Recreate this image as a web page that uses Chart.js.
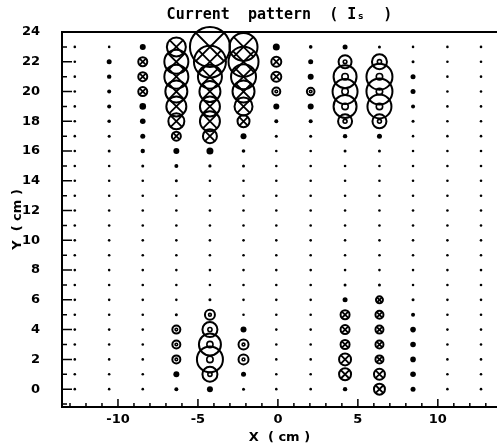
<!DOCTYPE html>
<html>
<head>
<meta charset="utf-8">
<script src="https://cdn.jsdelivr.net/npm/chart.js@4.4.1/dist/chart.umd.min.js"></script>
<style>
  html, body { margin: 0; padding: 0; background: #fff; }
  #wrap { width: 497px; height: 446px; }
</style>
</head>
<body>
<div id="wrap"><canvas id="patron_corriente"></canvas></div>
<script>
// measurement grid (cm)
const colX = [-12.7, -10.55, -8.45, -6.35, -4.25, -2.15, -0.1, 2.05, 4.2, 6.35, 8.45, 10.6, 12.7];
const rowY = [0, 1, 2, 3, 4, 5, 6, 7, 8, 9, 10, 11, 12, 13, 14, 15, 16, 17, 18, 19, 20, 21, 22, 23];

// current into the page (x, y, magnitude)
const inward = [
  [-8.45, 22, 4.5], [-8.45, 21, 4.5], [-8.45, 20, 4.5],
  [-6.35, 23, 9.5], [-6.35, 22, 12], [-6.35, 21, 12], [-6.35, 20, 11], [-6.35, 19, 10], [-6.35, 18, 8], [-6.35, 17, 4.5],
  [-4.25, 23, 20], [-4.25, 22, 16], [-4.25, 21, 12], [-4.25, 20, 10.5], [-4.25, 19, 10], [-4.25, 18, 10], [-4.25, 17, 7],
  [-2.15, 23, 14], [-2.15, 22, 15], [-2.15, 21, 12.5], [-2.15, 20, 11], [-2.15, 19, 9], [-2.15, 18, 6],
  [-0.1, 22, 5], [-0.1, 21, 5],
  [4.2, 5, 4.5], [4.2, 4, 4.5], [4.2, 3, 4.5], [4.2, 2, 6], [4.2, 1, 6],
  [6.35, 6, 3.5], [6.35, 5, 4], [6.35, 4, 4], [6.35, 3, 4], [6.35, 2, 4], [6.35, 1, 5.5], [6.35, 0, 5.5]
];

// current out of the page (x, y, magnitude)
const outward = [
  [-6.35, 4, 4], [-6.35, 3, 4], [-6.35, 2, 4],
  [-4.25, 5, 5], [-4.25, 4, 7.5], [-4.25, 3, 11], [-4.25, 2, 13], [-4.25, 1, 7.5],
  [-2.15, 3, 5], [-2.15, 2, 5],
  [-0.1, 20, 4], [2.05, 20, 3.8],
  [4.2, 22, 6.5], [4.2, 21, 11.5], [4.2, 20, 12.5], [4.2, 19, 11.5], [4.2, 18, 7],
  [6.35, 22, 7.5], [6.35, 21, 13], [6.35, 20, 13], [6.35, 19, 12], [6.35, 18, 7]
];

// weak currents drawn as plain dots (x, y, magnitude)
const weak = [
  [-10.55, 22, 2.5], [-10.55, 21, 2.2], [-10.55, 20, 2], [-10.55, 19, 2], [-10.55, 18, 1.8], [-10.55, 17, 1.5], [-10.55, 16, 1.5],
  [-8.45, 23, 3], [-8.45, 19, 3.3], [-8.45, 18, 2.8], [-8.45, 17, 2.5], [-8.45, 16, 2.2], [-8.45, 15, 1.5],
  [-6.35, 16, 3], [-6.35, 15, 2], [-6.35, 14, 1.5], [-6.35, 5, 1.5], [-6.35, 1, 3], [-6.35, 0, 2],
  [-4.25, 16, 3.5], [-4.25, 15, 1.6], [-4.25, 6, 1.5], [-4.25, 0, 3],
  [-2.15, 17, 3], [-2.15, 16, 1.8], [-2.15, 15, 1.5], [-2.15, 4, 3], [-2.15, 1, 2.5], [-2.15, 0, 1.5],
  [-0.1, 23, 3.5], [-0.1, 19, 3], [-0.1, 18, 2], [-0.1, 17, 1.5],
  [2.05, 23, 1.8], [2.05, 22, 2.5], [2.05, 21, 3], [2.05, 19, 3], [2.05, 18, 2], [2.05, 17, 1.5],
  [4.2, 23, 2.5], [4.2, 17, 2.2], [4.2, 16, 1.5], [4.2, 7, 1.5], [4.2, 6, 2.5], [4.2, 0, 2.2],
  [6.35, 23, 1.5], [6.35, 17, 2.5], [6.35, 16, 1.5], [6.35, 7, 1.5],
  [8.45, 22, 1.5], [8.45, 21, 2.5], [8.45, 20, 2.5], [8.45, 19, 2], [8.45, 18, 1.5],
  [8.45, 6, 1.5], [8.45, 5, 2], [8.45, 4, 2.8], [8.45, 3, 2.8], [8.45, 2, 2.8], [8.45, 1, 2.8], [8.45, 0, 2.5]
];
const baseMagnitude = 1.3;   // grid points with negligible current

const xTickLabels = [-10, -5, 0, 5, 10];
const yTickLabels = [0, 2, 4, 6, 8, 10, 12, 14, 16, 18, 20, 22, 24];

const PX_PER_UNIT = 1;
const toBubble = ([x, y, m]) => ({x, y, r: m * PX_PER_UNIT});

const used = new Set([...inward, ...outward, ...weak].map(d => d[0] + '|' + d[1]));
const gridPts = [];
colX.forEach(x => rowY.forEach(y => {
  if (!used.has(x + '|' + y)) gridPts.push([x, y, baseMagnitude]);
}));

const insideTicks = {
  id: 'insideTicks',
  afterDraw(chart) {
    const {ctx, chartArea: a, scales: {x, y}} = chart;
    ctx.save();
    ctx.strokeStyle = '#000';
    ctx.lineWidth = 1.5;
    ctx.beginPath();
    x.ticks.forEach(t => {
      const px = x.getPixelForValue(t.value);
      const len = xTickLabels.includes(t.value) ? 8 : 4;
      ctx.moveTo(px, a.bottom);
      ctx.lineTo(px, a.bottom - len);
    });
    y.ticks.forEach(t => {
      const py = y.getPixelForValue(t.value);
      const len = yTickLabels.includes(t.value) ? 10 : 5;
      ctx.moveTo(a.left, py);
      ctx.lineTo(a.left + len, py);
    });
    ctx.stroke();
    ctx.lineWidth = 2;
    ctx.beginPath();
    ctx.moveTo(a.left, a.top);
    ctx.lineTo(a.right, a.top);
    ctx.stroke();
    ctx.restore();
  }
};

const negro = '#000';
const ctx = document.getElementById('patron_corriente').getContext('2d');

new Chart(ctx, {
  type: 'bubble',
  data: {
    datasets: [
      { label: 'grid', data: gridPts.map(toBubble), pointStyle: 'circle', backgroundColor: negro, borderWidth: 0, clip: false },
      { label: 'weak', data: weak.map(toBubble), pointStyle: 'circle', backgroundColor: negro, borderWidth: 0, clip: false },
      { label: 'in', data: inward.map(toBubble), pointStyle: 'circle', backgroundColor: 'rgba(0,0,0,0)', borderColor: negro, borderWidth: 2, clip: false },
      { label: 'in x', data: inward.map(toBubble), pointStyle: 'crossRot', borderColor: negro, borderWidth: 1.8, clip: false },
      { label: 'out', data: outward.map(toBubble), pointStyle: 'circle', backgroundColor: 'rgba(0,0,0,0)', borderColor: negro, borderWidth: 2, clip: false },
      { label: 'out centre', data: outward.map(d => ({x: d[0], y: d[1], r: Math.min(3.2, Math.max(1.3, d[2] * 0.28))})),
        pointStyle: 'circle', backgroundColor: 'rgba(0,0,0,0)', borderColor: negro, borderWidth: 1.6, clip: false }
    ]
  },
  options: {
    responsive: true,
    maintainAspectRatio: false,
    animation: false,
    events: [],
    layout: { padding: 0, autoPadding: false },
    plugins: {
      legend: { display: false },
      tooltip: { enabled: false },
      title: {
        display: true,
        fullSize: false,
        text: 'Current  pattern  ( Iₛ  )',
        color: negro,
        padding: { top: 6, bottom: 8 },
        font: { family: 'DejaVu Sans Mono', size: 15, weight: 'bold', lineHeight: 1.2 }
      }
    },
    scales: {
      x: {
        type: 'linear',
        min: -13.5,
        max: 13.7,
        afterFit: s => { s.height = 39; },
        grid: { display: false, drawTicks: false },
        border: { display: true, color: negro, width: 2 },
        ticks: {
          stepSize: 1,
          includeBounds: false,
          autoSkip: false,
          maxRotation: 0,
          padding: 5,
          color: negro,
          font: { family: 'DejaVu Sans', size: 13, weight: 'bold' },
          callback: v => xTickLabels.includes(v) ? String(v) : ''
        },
        title: {
          display: true,
          text: 'X  ( cm )',
          color: negro,
          padding: { top: 0, bottom: 1 },
          font: { family: 'DejaVu Sans', size: 13, weight: 'bold' }
        }
      },
      y: {
        type: 'linear',
        min: -1.2,
        max: 24,
        afterFit: s => { s.width = 62; },
        grid: { display: false, drawTicks: false },
        border: { display: true, color: negro, width: 2 },
        ticks: {
          stepSize: 1,
          includeBounds: false,
          autoSkip: false,
          padding: 22,
          color: negro,
          font: { family: 'DejaVu Sans', size: 13, weight: 'bold' },
          callback: v => yTickLabels.includes(v) ? String(v) : ''
        },
        title: {
          display: true,
          text: 'Y  ( cm )',
          color: negro,
          padding: { top: 10, bottom: 0 },
          font: { family: 'DejaVu Sans', size: 13, weight: 'bold' }
        }
      }
    }
  },
  plugins: [insideTicks]
});
</script>
</body>
</html>
